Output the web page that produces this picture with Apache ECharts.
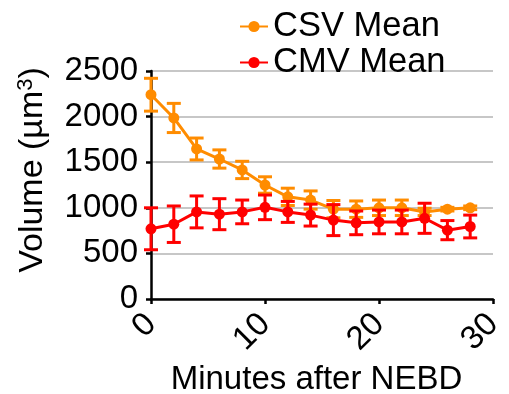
<!DOCTYPE html>
<html><head><meta charset="utf-8">
<script src="https://cdn.jsdelivr.net/npm/echarts@6/dist/echarts.min.js"></script>
<style>html,body{margin:0;padding:0;background:#fff}#c{width:509px;height:394px}</style>
</head><body><div id="c"></div>
<script>
var minutes = [0, 2, 4, 6, 8, 10, 12, 14, 16, 18, 20, 22, 24, 26, 28];
var csvMean = [2240, 1985, 1645, 1535, 1415, 1250, 1120, 1085, 985, 985, 1000, 1000, 955, 985, 1000];
var csvErr  = [180, 160, 120, 100, 95, 90, 95, 100, 95, 90, 85, 85, 40, 20, 20];
var cmvMean = [770, 820, 955, 930, 955, 1005, 955, 920, 865, 835, 845, 845, 885, 755, 795];
var cmvErr  = [230, 200, 175, 170, 130, 135, 115, 120, 170, 130, 130, 130, 165, 105, 125];
var xTicks = [0, 10, 20, 30];
var yTicks = [0, 500, 1000, 1500, 2000, 2500];

var ORANGE = '#FF8C00', RED = '#FF0000';
var FONT = 'Liberation Sans, Arial, sans-serif';

function pairs(xs, ys){ return xs.map(function(x,i){ return [x, ys[i]]; }); }
function errData(xs, m, e){ return xs.map(function(x,i){ return [x, m[i]-e[i], m[i]+e[i]]; }); }
function errSeries(data, color, z){
  return {
    type: 'custom', z: z, silent: true,
    data: data,
    encode: { x: 0, y: [1, 2] },
    renderItem: function(params, api){
      var lo = api.coord([api.value(0), api.value(1)]);
      var hi = api.coord([api.value(0), api.value(2)]);
      var hw = 7;
      var st = { stroke: color, lineWidth: 3 };
      return { type: 'group', children: [
        { type: 'line', shape: { x1: lo[0], y1: lo[1], x2: hi[0], y2: hi[1] }, style: st },
        { type: 'line', shape: { x1: lo[0]-hw, y1: lo[1], x2: lo[0]+hw, y2: lo[1] }, style: st },
        { type: 'line', shape: { x1: hi[0]-hw, y1: hi[1], x2: hi[0]+hw, y2: hi[1] }, style: st }
      ]};
    }
  };
}

var chart = echarts.init(document.getElementById('c'));
chart.setOption({
  animation: false,
  textStyle: { fontFamily: FONT },
  grid: { left: 151, right: 16, top: 71, bottom: 95, containLabel: false, outerBoundsMode: 'none' },
  legend: {
    orient: 'vertical', left: 234, top: 4, itemGap: 1,
    itemWidth: 28, itemHeight: 14,
    textStyle: { fontSize: 34.5, lineHeight: 30, color: '#000', fontFamily: FONT },
    data: ['CSV Mean', 'CMV Mean']
  },
  xAxis: {
    type: 'value', min: xTicks[0], max: xTicks[xTicks.length-1], interval: 10,
    name: 'Minutes after NEBD', nameLocation: 'middle', nameGap: 55,
    nameTextStyle: { fontSize: 33, color: '#000', fontFamily: FONT, padding: [0, 11, 0, 0] },
    axisLine: { lineStyle: { color: '#000', width: 2.5 } },
    axisTick: { show: true, length: 5, lineStyle: { color: '#000', width: 2.5 } },
    axisLabel: { rotate: 45, fontSize: 33, color: '#000', margin: 20, fontFamily: FONT,
      formatter: function(v){ return String(v); } },
    splitLine: { show: false }
  },
  yAxis: {
    type: 'value', min: yTicks[0], max: yTicks[yTicks.length-1], interval: 500,
    name: '{a|Volume (µm}{s|3}{a|)}', nameLocation: 'middle', nameGap: 100, nameRotate: 90,
    nameTextStyle: { padding: [0, 0, 0, 30], rich: {
      a: { fontSize: 34, color: '#000', fontFamily: FONT },
      s: { fontSize: 22, color: '#000', fontFamily: FONT, verticalAlign: 'top', padding: [0,0,14,0] }
    } },
    axisLine: { show: true, lineStyle: { color: '#000', width: 2.5 } },
    axisTick: { show: true, length: 5, lineStyle: { color: '#000', width: 2.5 } },
    axisLabel: { fontSize: 33, color: '#000', margin: 13, fontFamily: FONT,
      formatter: function(v){ return String(v); } },
    splitLine: { show: true, lineStyle: { color: '#b4b4b4', width: 1.5 } }
  },
  series: [
    errSeries(errData(minutes, csvMean, csvErr), ORANGE, 2),
    { name: 'CSV Mean', type: 'line', z: 3, data: pairs(minutes, csvMean), color: ORANGE,
      symbol: 'circle', symbolSize: 11, lineStyle: { width: 3, color: ORANGE }, itemStyle: { color: ORANGE } },
    errSeries(errData(minutes, cmvMean, cmvErr), RED, 4),
    { name: 'CMV Mean', type: 'line', z: 5, data: pairs(minutes, cmvMean), color: RED,
      symbol: 'circle', symbolSize: 11, lineStyle: { width: 3, color: RED }, itemStyle: { color: RED } }
  ]
});
</script></body></html>
